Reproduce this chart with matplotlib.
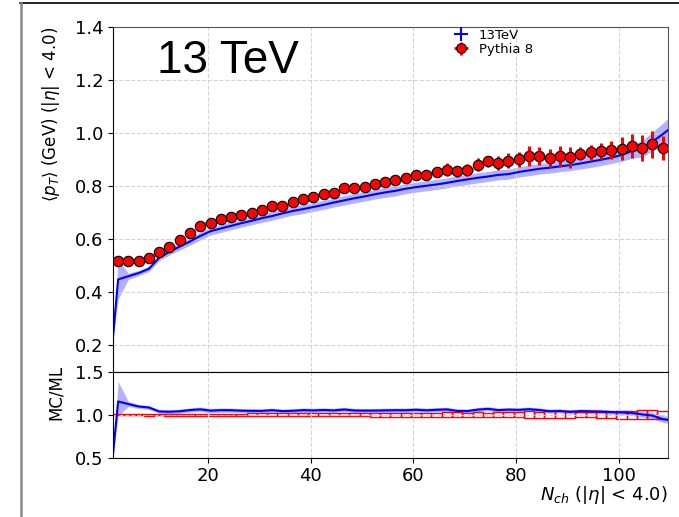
import numpy as np
import matplotlib
matplotlib.use("Agg")
import matplotlib.pyplot as plt
from matplotlib.patches import Rectangle
from matplotlib.lines import Line2D

# Pythia 8 (MC) points, bins of width 2
nch = np.arange(2.5, 109.0, 2.0)
pythia = [0.517, 0.517, 0.517, 0.529, 0.550, 0.571, 0.595, 0.623, 0.650, 0.660,
          0.674, 0.684, 0.691, 0.699, 0.709, 0.723, 0.726, 0.738, 0.751, 0.757,
          0.769, 0.775, 0.791, 0.791, 0.797, 0.806, 0.815, 0.823,
          0.831, 0.842, 0.842, 0.852, 0.862, 0.855, 0.860, 0.880, 0.893, 0.887,
          0.895, 0.901, 0.914, 0.912, 0.904, 0.912, 0.908, 0.922, 0.927, 0.932,
          0.935, 0.941, 0.951, 0.943, 0.957, 0.945]
pythia_err = [0.004, 0.004, 0.004, 0.005, 0.005, 0.006, 0.006, 0.007, 0.007, 0.008,
              0.008, 0.009, 0.009, 0.010, 0.010, 0.011, 0.011, 0.012, 0.012, 0.013,
              0.013, 0.014, 0.015, 0.015, 0.016, 0.017, 0.017, 0.018,
              0.019, 0.019, 0.019, 0.019, 0.025, 0.022, 0.022, 0.025, 0.022, 0.028,
              0.028, 0.028, 0.038, 0.034, 0.034, 0.040, 0.039, 0.025, 0.028, 0.031,
              0.034, 0.044, 0.044, 0.048, 0.052, 0.045]

# 13TeV (ML) curve, same bins plus the two edges
ml_x = np.r_[1.5, nch, 109.5]
ml = [0.230, 0.448, 0.460, 0.472, 0.488, 0.530, 0.552, 0.572, 0.591, 0.612, 0.630,
      0.640, 0.650, 0.660, 0.669, 0.679, 0.687, 0.697, 0.706, 0.713, 0.721,
      0.729, 0.738, 0.746, 0.754, 0.761, 0.769, 0.776, 0.782,
      0.790, 0.796, 0.801, 0.806, 0.812, 0.819, 0.825, 0.831, 0.836, 0.842,
      0.845, 0.853, 0.859, 0.865, 0.869, 0.874, 0.879, 0.885, 0.892, 0.899,
      0.907, 0.917, 0.932, 0.940, 0.967, 0.995, 1.010]
ml_err = [0.000, 0.075, 0.012, 0.010, 0.010, 0.011, 0.012, 0.013, 0.014, 0.015, 0.015,
          0.015, 0.015, 0.015, 0.015, 0.016, 0.016, 0.016, 0.016, 0.017, 0.017,
          0.017, 0.017, 0.018, 0.018, 0.018, 0.018, 0.019, 0.019,
          0.019, 0.019, 0.019, 0.019, 0.019, 0.019, 0.019, 0.019, 0.019, 0.019,
          0.019, 0.019, 0.020, 0.020, 0.020, 0.020, 0.021, 0.021, 0.022, 0.022,
          0.022, 0.024, 0.027, 0.031, 0.036, 0.041, 0.045]
ratio_edges = [0.54, 0.94]

pythia = np.array(pythia)
pythia_err = np.array(pythia_err)
ml = np.array(ml)
ml_err = np.array(ml_err)

ratio = np.r_[ratio_edges[0], pythia / ml[1:-1], ratio_edges[1]]
ratio_hi = np.r_[ratio_edges[0], pythia / (ml[1:-1] - ml_err[1:-1]), ratio_edges[1] + 0.04]
ratio_lo = np.r_[ratio_edges[0], pythia / (ml[1:-1] + ml_err[1:-1]), ratio_edges[1] - 0.04]

fig = plt.figure(figsize=(6.79, 5.17), dpi=100)
ax = fig.add_axes([0.1664, 0.281, 0.817, 0.667])
ax2 = fig.add_axes([0.1664, 0.1147, 0.817, 0.1663], sharex=ax)

grid_kw = dict(color="#d4d4d4", linestyle="--", linewidth=0.8)

# main panel
ax.fill_between(ml_x, ml - ml_err, ml + ml_err, color="blue", alpha=0.3, lw=0)
ax.plot(ml_x, ml, color="blue", lw=1.5)
ax.errorbar(nch, pythia, xerr=1.0, yerr=pythia_err, fmt="o", ms=7.5,
            mfc="red", mec="black", mew=0.8, ecolor="red", elinewidth=2.2, capsize=0)
h_ml = ax.errorbar([np.nan], [np.nan], xerr=1, yerr=1, fmt="none", ecolor="blue", elinewidth=1.5)
h_py = ax.errorbar([np.nan], [np.nan], xerr=1, yerr=1, fmt="o", ms=7, mfc="red",
                   mec="black", mew=0.8, ecolor="red", elinewidth=2)
ax.legend([h_ml, h_py], ["13TeV", "Pythia 8"], loc="upper left",
          bbox_to_anchor=(0.612, 0.995), frameon=False, fontsize=9.5,
          labelspacing=0.1, handlelength=1.3, handletextpad=0.7,
          borderpad=0, borderaxespad=0)
ax.text(0.079, 0.866, "13 TeV", transform=ax.transAxes, fontsize=33,
        family="Liberation Sans", va="baseline")

ax.set_xlim(1.5, 109.5)
ax.set_ylim(0.1, 1.4)
ax.set_yticks([0.2, 0.4, 0.6, 0.8, 1.0, 1.2, 1.4])
ax.grid(True, **grid_kw)
ax.tick_params(axis="x", bottom=False, labelbottom=False)
ax.tick_params(axis="y", labelsize=13)
ax.set_ylabel(r"$\langle p_T \rangle$ (GeV) ($|\eta|$ < 4.0)", fontsize=12, loc="top")
ax.yaxis.set_label_coords(-0.0925, 1.0)
for s in ("top", "right"):
    ax.spines[s].set_color("#555555")

# ratio panel
ax2.fill_between(ml_x, ratio_lo, ratio_hi, color="blue", alpha=0.3, lw=0)
ax2.plot(ml_x, ratio, color="blue", lw=1.5)
for x, v, e in zip(nch, pythia, pythia_err):
    rel = e / v
    ax2.add_patch(Rectangle((x - 1, 1 - rel), 2, 2 * rel, facecolor="none",
                            edgecolor="red", lw=1))
ax2.set_ylim(0.5, 1.5)
ax2.set_yticks([0.5, 1.0, 1.5])
ax2.set_xticks([20, 40, 60, 80, 100])
ax2.grid(True, **grid_kw)
ax2.tick_params(labelsize=13)
ax2.set_ylabel("MC/ML", fontsize=12, loc="top")
ax2.yaxis.set_label_coords(-0.0866, 1.078)
ax2.set_xlabel(r"$N_{ch}$ ($|\eta|$ < 4.0)", fontsize=13, loc="right", labelpad=-1)
ax2.spines["right"].set_color("#555555")

# frame remnants of the original figure
fig.add_artist(Line2D([20 / 679, 1], [1 - 3 / 517, 1 - 3 / 517], color="black", lw=1.2))
fig.add_artist(Line2D([21 / 679, 21 / 679], [0, 1 - 3 / 517], color="#888888", lw=1.8))

fig.savefig("out.png", dpi=100)
